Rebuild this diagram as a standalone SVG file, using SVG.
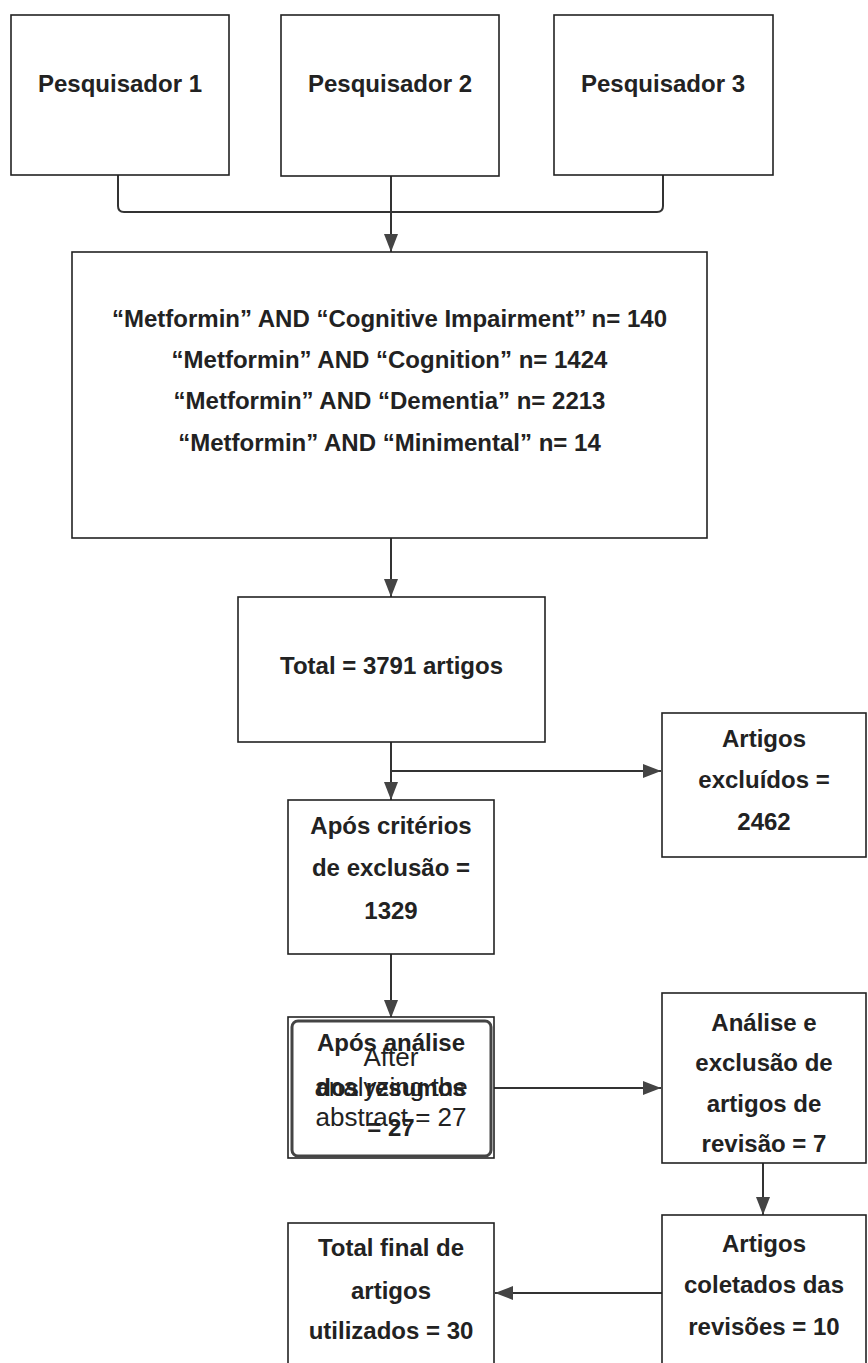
<svg xmlns="http://www.w3.org/2000/svg" width="868" height="1363" viewBox="0 0 868 1363">
<defs>
<style>
.box{fill:#fff;stroke:#222;stroke-width:1.6}
.t{font-family:"Liberation Sans",Arial,sans-serif;font-weight:bold;font-size:24px;fill:#222;text-anchor:middle}
.r{font-family:"Liberation Sans",Arial,sans-serif;font-size:26px;fill:#222;text-anchor:middle}
.c{fill:none;stroke:#333;stroke-width:2}
</style>
<marker id="ah" markerUnits="userSpaceOnUse" markerWidth="18" markerHeight="14" viewBox="0 0 18 14" refX="18" refY="7" orient="auto">
<path d="M0,0 L18,7 L0,14 Z" fill="#444"/>
</marker>
</defs>
<rect width="868" height="1363" fill="#fff"/>
<g id="connectors">
<path class="c" d="M118,175 V206 Q118,212 124,212 H657 Q663,212 663,206 V175"/>
<path class="c" d="M391,176 V252" marker-end="url(#ah)"/>
<path class="c" d="M391,538 V597" marker-end="url(#ah)"/>
<path class="c" d="M391,742 V800" marker-end="url(#ah)"/>
<path class="c" d="M391,771 H661" marker-end="url(#ah)"/>
<path class="c" d="M391,954 V1018" marker-end="url(#ah)"/>
<path class="c" d="M494,1088 H661" marker-end="url(#ah)"/>
<path class="c" d="M763,1163 V1215" marker-end="url(#ah)"/>
<path class="c" d="M662,1293 H495" marker-end="url(#ah)"/>
</g>
<g id="pesq1">
<rect class="box" x="11" y="15" width="218" height="160"/>
<text class="t" x="120" y="92">Pesquisador 1</text>
</g>
<g id="pesq2">
<rect class="box" x="281" y="15" width="218" height="161"/>
<text class="t" x="390" y="92">Pesquisador 2</text>
</g>
<g id="pesq3">
<rect class="box" x="554" y="15" width="219" height="160"/>
<text class="t" x="663" y="92">Pesquisador 3</text>
</g>
<g id="busca">
<rect class="box" x="72" y="252" width="635" height="286"/>
<text class="t" x="389.5" y="327">“Metformin” AND “Cognitive Impairment’’ n= 140</text>
<text class="t" x="389.5" y="368">“Metformin” AND “Cognition” n= 1424</text>
<text class="t" x="389.5" y="409">“Metformin” AND “Dementia” n= 2213</text>
<text class="t" x="389.5" y="451">“Metformin” AND “Minimental” n= 14</text>
</g>
<g id="total">
<rect class="box" x="238" y="597" width="307" height="145"/>
<text class="t" x="391.5" y="674">Total = 3791 artigos</text>
</g>
<g id="excluidos">
<rect class="box" x="662" y="713" width="204" height="144"/>
<text class="t" x="764" y="747">Artigos</text>
<text class="t" x="764" y="788">excluídos =</text>
<text class="t" x="764" y="830">2462</text>
</g>
<g id="criterios">
<rect class="box" x="288" y="800" width="206" height="154"/>
<text class="t" x="391" y="834">Após critérios</text>
<text class="t" x="391" y="876">de exclusão =</text>
<text class="t" x="391" y="919">1329</text>
</g>
<g id="resumos">
<rect class="box" x="288" y="1017" width="206" height="141"/>
<rect x="292" y="1021" width="199" height="135" rx="6" fill="#fff" stroke="#444" stroke-width="3"/>
<text class="t" x="391" y="1051">Após análise</text>
<text class="t" x="391" y="1096">dos resumos</text>
<text class="t" x="391" y="1136">= 27</text>
<text class="r" x="391" y="1066">After</text>
<text class="r" x="391" y="1096">analyzing the</text>
<text class="r" x="391" y="1126">abstract = 27</text>
</g>
<g id="revisao">
<rect class="box" x="662" y="993" width="204" height="170"/>
<text class="t" x="764" y="1031">Análise e</text>
<text class="t" x="764" y="1071">exclusão de</text>
<text class="t" x="764" y="1112">artigos de</text>
<text class="t" x="764" y="1152">revisão = 7</text>
</g>
<g id="coletados">
<rect class="box" x="662" y="1215" width="204" height="160"/>
<text class="t" x="764" y="1252">Artigos</text>
<text class="t" x="764" y="1293">coletados das</text>
<text class="t" x="764" y="1335">revisões = 10</text>
</g>
<g id="final">
<rect class="box" x="288" y="1223" width="206" height="152"/>
<text class="t" x="391" y="1256">Total final de</text>
<text class="t" x="391" y="1299">artigos</text>
<text class="t" x="391" y="1339">utilizados = 30</text>
</g>
</svg>
